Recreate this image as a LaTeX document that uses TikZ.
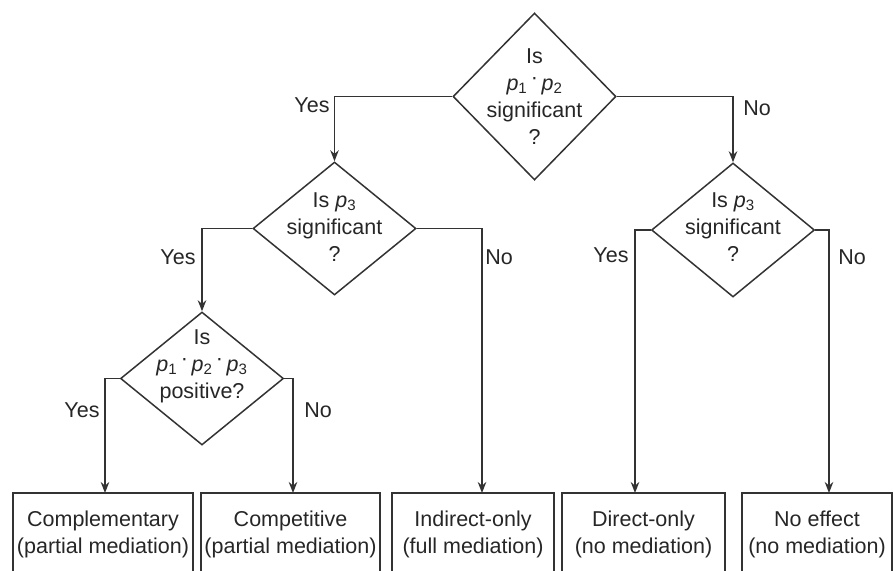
\documentclass[tikz,border=0pt]{standalone}
\usepackage{fontspec}
\setmainfont{Liberation Sans}
\usetikzlibrary{shapes.geometric,arrows.meta}
\newcommand{\pvar}[1]{\textit{p}\textsubscript{#1}}
\newcommand{\tdot}{\,\raisebox{0.5ex}{·}\,}
\begin{document}
\begin{tikzpicture}[x=1pt,y=-1pt,
  every node/.style={font=\fontsize{21.5}{27}\selectfont, text=black!85},
  decision/.style={diamond, draw=black!80, line width=1.5pt, inner sep=0pt, minimum width=163pt, minimum height=#1},
  dtext/.style={align=center, inner sep=0pt},
  outcome/.style={rectangle, draw=black!80, line width=1.5pt, inner sep=0pt, align=center, minimum height=82pt},
  arr/.style={draw=black!80, line width=1.5pt, -{Stealth[length=11pt,width=8.5pt]}}]
\useasboundingbox (0,0) rectangle (893,570);
\node[decision=167pt] (d1) at (534.5,96.5) {};
\node[decision=133pt] (d2) at (334.5,228.5) {};
\node[decision=134pt] (d3) at (733,230) {};
\node[decision=133pt] (d4) at (202,378.5) {};
\node[dtext] (t1) at (534.5,96.5) {Is\\\pvar{1}\tdot\pvar{2}\\significant\\?};
\node[dtext] (t2) at (334.5,227) {Is \pvar{3}\\significant\\?};
\node[dtext] (t3) at (733,227) {Is \pvar{3}\\significant\\?};
\node[dtext] (t4) at (202,366) {Is\\\pvar{1}\tdot\pvar{2}\tdot\pvar{3}\\positive?};
\node[outcome, minimum width=180pt] (b1) at (103,534) {Complementary\\(partial mediation)};
\node[outcome, minimum width=179pt] (b2) at (290.5,534) {Competitive\\(partial mediation)};
\node[outcome, minimum width=162pt] (b3) at (473,534) {Indirect-only\\(full mediation)};
\node[outcome, minimum width=163pt] (b4) at (643.5,534) {Direct-only\\(no mediation)};
\node[outcome, minimum width=150pt] (b5) at (817,534) {No effect\\(no mediation)};
\coordinate (c1) at (105,493);
\coordinate (c2) at (293,493);
\coordinate (c3) at (482,493);
\coordinate (c4) at (635,493);
\coordinate (c5) at (829,493);
\draw[arr] (d1.west) -| (d2.north);
\draw[arr] (d1.east) -| (d3.north);
\draw[arr] (d2.west) -| (d4.north);
\draw[arr] (d2.east) -| (c3);
\draw[arr] (d3.west) -| (c4);
\draw[arr] (d3.east) -| (c5);
\draw[arr] (d4.west) -| (c1);
\draw[arr] (d4.east) -| (c2);
\node (y1) at (312,105) {Yes};
\node (n1) at (757,108) {No};
\node (y2) at (178,257) {Yes};
\node (n2) at (499,257) {No};
\node (y3) at (611,255) {Yes};
\node (n3) at (852,257) {No};
\node (y4) at (82,410) {Yes};
\node (n4) at (318,410) {No};
\end{tikzpicture}
\end{document}
